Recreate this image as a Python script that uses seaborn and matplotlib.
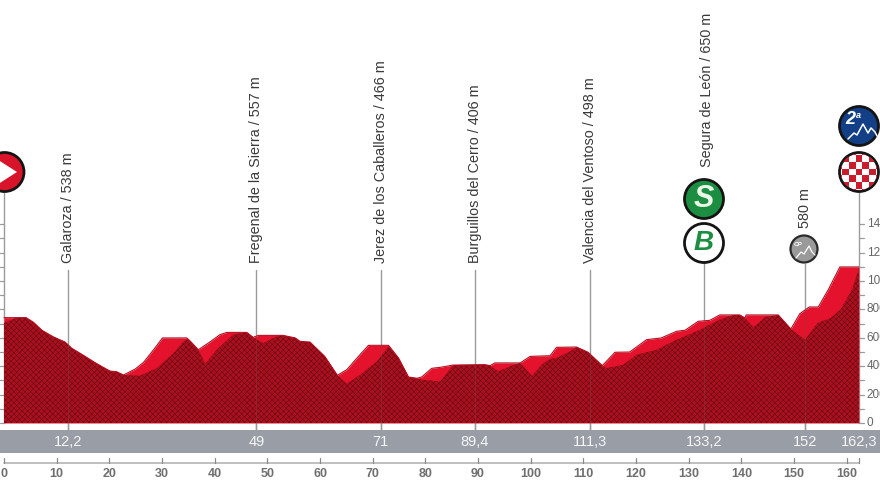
import numpy as np
import pandas as pd
import matplotlib
matplotlib.use("Agg")
import matplotlib.pyplot as plt
from matplotlib.patches import Circle, Polygon, Rectangle
import seaborn as sns

# ---- data ----
profile_km = [0, 4.2, 5.6, 7.2, 9.4, 11.6, 12.8, 15.1, 17.6, 20.1, 21.4, 22.7, 24.9, 26.5, 28.4, 30.1, 34.7, 35.4, 36.9,
              38.8, 41, 42.3, 46.1, 47.3, 48.3, 53, 55.3, 56.2, 58.1, 60.9, 63.3, 65.1, 67.3, 69.2, 73, 74.9, 76.8,
              78.4, 79.3, 81.2, 82.8, 85.3, 91.3, 92.3, 93.2, 98, 99.9, 103.7, 104.9, 108.7, 110.9, 113.6, 116,
              118.8, 122, 124.8, 127.7, 129.3, 131.8, 134, 135.9, 139.7, 140.7, 140.9, 147, 149.4, 151.1, 152.9,
              154.6, 156.5, 158.7, 162.3]
profile_m = [742, 742, 709, 653, 606, 570, 528, 476, 418, 366, 361, 338, 380, 427, 516, 599, 599, 575, 516,
             563, 622, 638, 638, 603, 617, 617, 599, 575, 570, 469, 336, 376, 469, 547, 547, 458, 324,
             315, 324, 385, 392, 408, 411, 404, 423, 423, 469, 474, 533, 535, 498, 404, 498,
             500, 587, 599, 646, 653, 716, 723, 761, 761, 739, 761, 761, 662, 770, 817,
             817, 939, 1099, 1099]
front_km = [0, 2.4, 4.2, 5.6, 7.2, 9.4, 11.6, 12.8, 15.1, 17.6, 20.1, 21.4, 22.7, 25.8, 29, 32.2, 34.1, 35, 35.4, 36.9,
            38.2, 40.4, 43.5, 46.1, 47.3, 49.2, 51.8, 53, 55.3, 56.2, 58.1, 60.9, 63.3, 65.1, 67.6, 70.8, 73, 74.9,
            76.8, 78.4, 79.3, 82.8, 84.4, 85.3, 91.3, 92.3, 93.9, 96.4, 98, 100.2, 102.4, 103.7, 104.9, 107.5,
            108.7, 110.9, 113.6, 114.4, 117.6, 120.1, 123.9, 127.7, 131.5, 135.9, 138.5, 139.7, 140.7, 142.3,
            144.5, 147, 149.4, 152.1, 154.4, 156.9, 158.8, 161, 162.3]
front_m = [704, 742, 742, 709, 653, 606, 570, 528, 476, 418, 366, 361, 338, 333, 387, 493, 575, 592, 575, 516,
           418, 516, 622, 638, 603, 563, 610, 617, 599, 575, 570, 469, 336, 277, 340, 434, 540, 458,
           324, 315, 305, 293, 368, 408, 411, 404, 364, 404, 423, 333, 423, 451, 458, 505,
           535, 498, 404, 387, 411, 481, 516, 587, 646, 728, 761, 761, 739, 676,
           746, 761, 662, 587, 704, 739, 798, 939, 1085]
place_km = [12.2, 47.9, 71.5, 89.4, 111.3, 132.9, 152]
place_text = ["Galaroza / 538 m", "Fregenal de la Sierra / 557 m", "Jerez de los Caballeros / 466 m",
              "Burguillos del Cerro / 406 m", "Valencia del Ventoso / 498 m", "Segura de León / 650 m", "580 m"]
place_label_bottom_m = [1125, 1125, 1125, 1125, 1125, 1800, 1370]
place_line_top_m = [1080, 1080, 1080, 1080, 1080, 1240, 1120]
band_km = [12.2, 47.9, 71.5, 89.4, 111.3, 132.9, 152, 162.3]
band_text = ["12,2", "49", "71", "89,4", "111,3", "133,2", "152", "162,3"]
km_ticks = list(range(0, 170, 10))
elev_ticks = [0, 200, 400, 600, 800, 1000, 1200, 1400]
finish_km = 162.3

# ---- scales (px -> data) ----
PX_KM = 5.267
PX_M = 0.142
X0, Y0 = 4.0, 423.0
sns.set_theme(style="white")
plt.rcParams["font.family"] = ["Liberation Sans", "DejaVu Sans"]
plt.rcParams["hatch.linewidth"] = 0.3
SANS = ["Liberation Sans", "DejaVu Sans"]

fig = plt.figure(figsize=(8.8, 4.95), dpi=100)
ax = fig.add_axes([0, 0, 1, 1])
ax.set_xlim(-X0 / PX_KM, (880 - X0) / PX_KM)
ax.set_ylim(-(495 - Y0) / PX_M, Y0 / PX_M)
ax.axis("off")
def ykm(px):  # pixel row -> metres
    return (Y0 - px) / PX_M

# profile
df = pd.DataFrame({"km": profile_km, "m": profile_m})
dff = pd.DataFrame({"km": front_km, "m": front_m})
ax.fill_between(df.km, 0, df.m, color="#e4122c", lw=0, zorder=2)
ax.fill_between(dff.km, 0, dff.m, facecolor="#ac0f1e", edgecolor="#4d0a10", hatch="xxxxxx", lw=0, zorder=3)
sns.lineplot(data=df, x="km", y="m", ax=ax, color="#b50f20", lw=0.8, zorder=4, legend=False)
ax.set_xlim(-X0 / PX_KM, (880 - X0) / PX_KM)

# vertical place lines and labels
GR = "#9b9b9b"
for i, (k, t, b, top) in enumerate(zip(place_km, place_text, place_label_bottom_m, place_line_top_m)):
    ax.plot([k, k], [ykm(430), top], color=GR, lw=1.0, zorder=1)
    ax.plot([k, k], [0, ykm(430)], color=GR, lw=1.0, zorder=5, alpha=.9)
    ax.plot([k, k], [0, np.interp(k, profile_km, profile_m)], color="#7a4a4f", lw=.8, alpha=.35, zorder=5)
    ax.text(k + (0.5 if i == 5 else 0), b, t, rotation=90, ha="center", va="bottom",
            fontsize=10.4, color="#3a3a3a", zorder=6)

# grey band
ax.add_patch(Rectangle((ax.get_xlim()[0], ykm(453)), 200, ykm(430) - ykm(453), color="#999da5", lw=0, zorder=6))
for k, t in zip(band_km, band_text):
    ax.text(k, ykm(442.5), t, ha="center", va="center", color="#f6f6f6", fontsize=10.5, family=SANS, zorder=7)

# distance axis
ax.plot([0, finish_km], [ykm(462.5)] * 2, color="#aeaeae", lw=1.1, zorder=5)
for k in km_ticks + [finish_km]:
    ax.plot([k, k], [ykm(462.5), ykm(458)], color="#8a8a8a", lw=0.9, zorder=5)
for k in km_ticks:
    ax.text(k, ykm(474), str(k), ha="center", va="center", color="#6f6f6f", fontsize=9, family=SANS, weight="bold")

# elevation axes
for x0 in (0, finish_km):
    ax.plot([x0, x0], [0, ykm(190)], color=GR, lw=1.0, zorder=1)
for m in range(0, 1500, 100):
    ax.plot([finish_km, finish_km + 1.0], [m, m], color=GR, lw=0.9, zorder=1)
    ax.plot([-0.76, 0], [m, m], color=GR, lw=0.9, zorder=1)
for m in elev_ticks:
    ax.text(finish_km + 1.5, m, str(m), ha="left", va="center", color="#666666", fontsize=8.5, clip_on=True)

# badges in pixel space
ov = fig.add_axes([0, 0, 1, 1], facecolor="none")
ov.set_xlim(0, 880); ov.set_ylim(495, 0); ov.axis("off")
def badge(x, y, r, fc, ec="#141414", lw=2):
    c = Circle((x, y), r, fc=fc, ec=ec, lw=lw, zorder=10)
    ov.add_patch(c)
    return c

badge(4.5, 172, 19.5, "#d8142b")
ov.add_patch(Polygon([[-8, 156], [17, 172], [-8, 188]], fc="white", lw=0, zorder=11))

badge(859, 126, 19.5, "#123f86")
ov.text(850, 120, "2", color="white", fontsize=13, style="italic", weight="bold", ha="center", va="center", zorder=11)
ov.text(858, 115, "a", color="white", fontsize=6.5, style="italic", weight="bold", ha="center", va="center", zorder=11)
ov.plot([848, 854, 857, 863, 868, 871, 875, 877], [139, 133, 135, 124, 133, 128, 132, 136], color="white", lw=1.1, zorder=11)

c = badge(859, 172, 19.5, "white")
size = 6.7
for i in range(-3, 4):
    for j in range(-3, 4):
        if (i + j) % 2 == 0:
            s = Rectangle((859 + i * size - size / 2, 172 + j * size - size / 2), size, size, fc="#cb1c2e", lw=0, zorder=11)
            ov.add_patch(s)
            s.set_clip_path(Circle((859, 172), 18.5, transform=ov.transData))

badge(704, 199, 19.5, "#1b8e42")
ov.text(704, 199, "S", color="#eaf6e6", fontsize=22, style="italic", weight="bold", ha="center", va="center", zorder=11)
badge(704, 243, 19.5, "white")
ov.text(704, 243, "B", color="#1b8e42", fontsize=20, style="italic", weight="bold", ha="center", va="center", zorder=11)

badge(804, 249, 13.5, "#9a9a9a", ec="#2a2a2a", lw=1.6)
ov.text(798, 244, "CP", color="white", fontsize=4.5, style="italic", weight="bold", ha="center", va="center", zorder=11)
ov.plot([796, 801, 804, 809, 812, 815], [258, 252, 254, 246, 252, 255], color="white", lw=0.9, zorder=11)

fig.savefig("out.png", dpi=100)
